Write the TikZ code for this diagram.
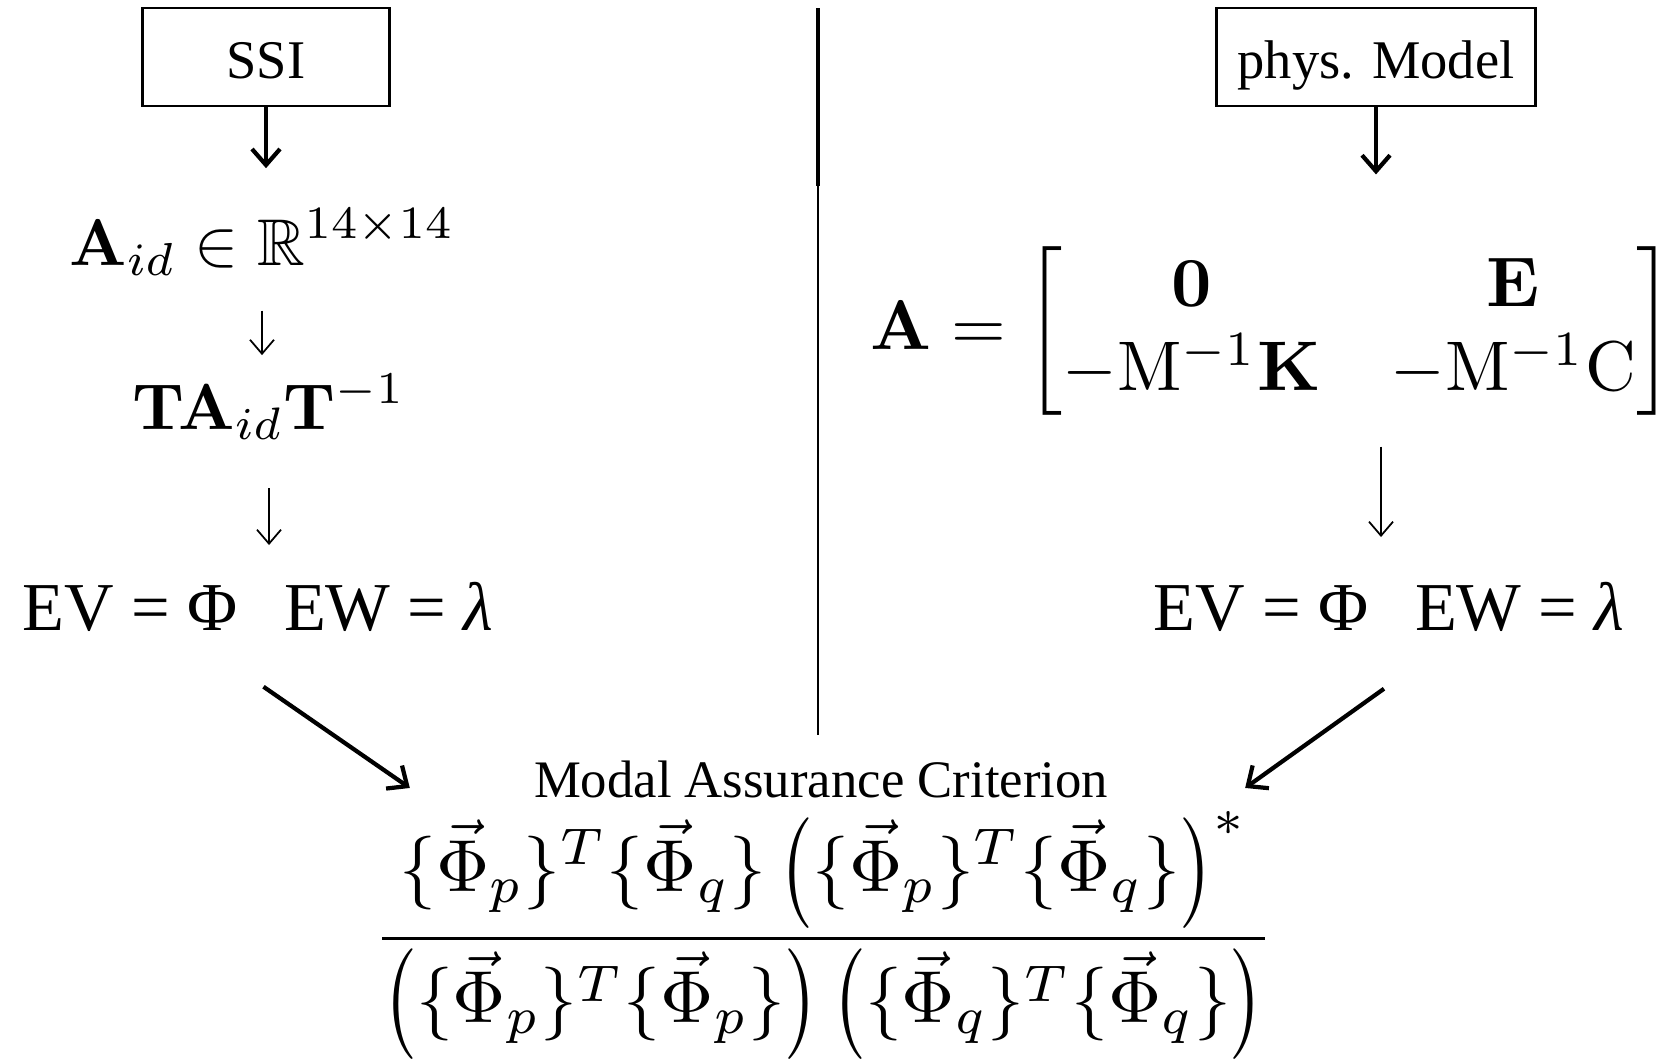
\RequirePackage{fix-cm}
\documentclass[tikz,border=0pt]{standalone}
\usepackage{amsmath, amssymb}
\usepackage{graphicx}
\usepackage[no-math]{fontspec}
\newfontfamily\tnr{Liberation Serif}
\usetikzlibrary{positioning, arrows.meta}

\newcommand{\phv}[1]{\{\vec{\Phi}_{#1}\}}
\newcommand{\oparen}{\mathopen{\vcenter{\hbox{\scalebox{1}[1.25]{$\bigl($}}}}}
\newcommand{\cparen}{\mathclose{\vcenter{\hbox{\scalebox{1}[1.25]{$\bigr)$}}}}}
\newcommand{\eqbox}[2][1.88]{\scalebox{#1}{$\displaystyle #2$}}

\begin{document}
\begin{tikzpicture}
    \tikzset{
      box/.style={draw, line width=0.6pt, minimum height=0.975cm, text height=0.47cm, text depth=0.03cm, font={\tnr\fontsize{15.5}{18}\selectfont}},
      eqn/.style={inner sep=0pt},
      evtext/.style={inner sep=0pt, font={\tnr\fontsize{19.5}{22}\selectfont}},
      bigarr/.style={-{Straight Barb[length=1.6mm, width=2.8mm]}, line width=1.2pt},
      smallarr/.style={-{Straight Barb[length=1.4mm, width=2.4mm]}, line width=0.5pt}
    }
    \useasboundingbox (0,0) rectangle (16.66,-10.63);
    \node[box, minimum width=2.47cm] (ssi) at (2.66,-0.57) {SSI};
    \node[box, minimum width=3.19cm] (phys) at (13.76,-0.57) {phys. Model};
    \node[eqn, anchor=base] (aid) at (2.62,-2.66) {\eqbox{\mathbf{A}_{id} \in \mathbb{R}^{14\times 14}}};
    \node[eqn, anchor=base] (ta) at (2.69,-4.30) {\eqbox[1.85]{\mathbf{T}\mathbf{A}_{id}\mathbf{T}^{-1}}};
    \node[evtext, anchor=base] (evL) at (2.58,-6.30) {EV = Φ\hspace{0.47cm}EW = \textit{λ}};
    \node[eqn] (amat) at (12.72,-3.315) {\eqbox[2.0]{\mathbf{A} = \begin{bmatrix} \mathbf{0} & \mathbf{E} \\ -\mathrm{M}^{-1}\mathbf{K} & -\mathrm{M}^{-1}\mathrm{C} \end{bmatrix}}};
    \node[evtext, anchor=base] (evR) at (13.89,-6.30) {EV = Φ\hspace{0.47cm}EW = \textit{λ}};
    \node[inner sep=0pt, anchor=base, font={\tnr\fontsize{15}{18}\selectfont}] (mac) at (8.21,-7.97) {Modal Assurance Criterion};
    \node[eqn, anchor=base] (frac) at (8.235,-9.57)
      {\eqbox[2.1]{\frac{\phv{p}^T\phv{q}\,\oparen\phv{p}^T\phv{q}\cparen^*}{\oparen\phv{p}^T\phv{p}\cparen\,\oparen\phv{q}^T\phv{q}\cparen}}};
    \coordinate (sepTop) at (8.18,-0.085);
    \coordinate (sepMid) at (8.18,-1.86);
    \coordinate (sepEnd) at (8.18,-7.35);
    \draw[line width=1.3pt] (sepTop) -- (sepMid);
    \draw[line width=0.8pt] (sepMid) -- (sepEnd);
    \draw[bigarr, shorten >=0.4cm] (ssi.south) -- (ssi.south |- aid.north);
    \draw[smallarr, shorten <=0.34cm, shorten >=0.18cm] (aid.south) -- (aid.south |- ta.north);
    \draw[smallarr, shorten <=0.48cm, shorten >=0.36cm] (ta.south) -- (ta.south |- evL.north);
    \draw[bigarr, shorten >=0.72cm] (phys.south) -- (phys.south |- amat.north);
    \draw[smallarr, shorten <=0.3cm, shorten >=0.44cm] ([xshift=1.09cm]amat.south) -- ([xshift=1.09cm]amat.south |- evR.north);
    \draw[bigarr] ([xshift=0.055cm, yshift=-0.55cm]evL.south) -- ([xshift=-1.235cm, yshift=-0.09cm]mac.west);
    \draw[bigarr] ([xshift=-0.05cm, yshift=-0.57cm]evR.south) -- ([xshift=1.365cm, yshift=-0.09cm]mac.east);
\end{tikzpicture}
\end{document}
